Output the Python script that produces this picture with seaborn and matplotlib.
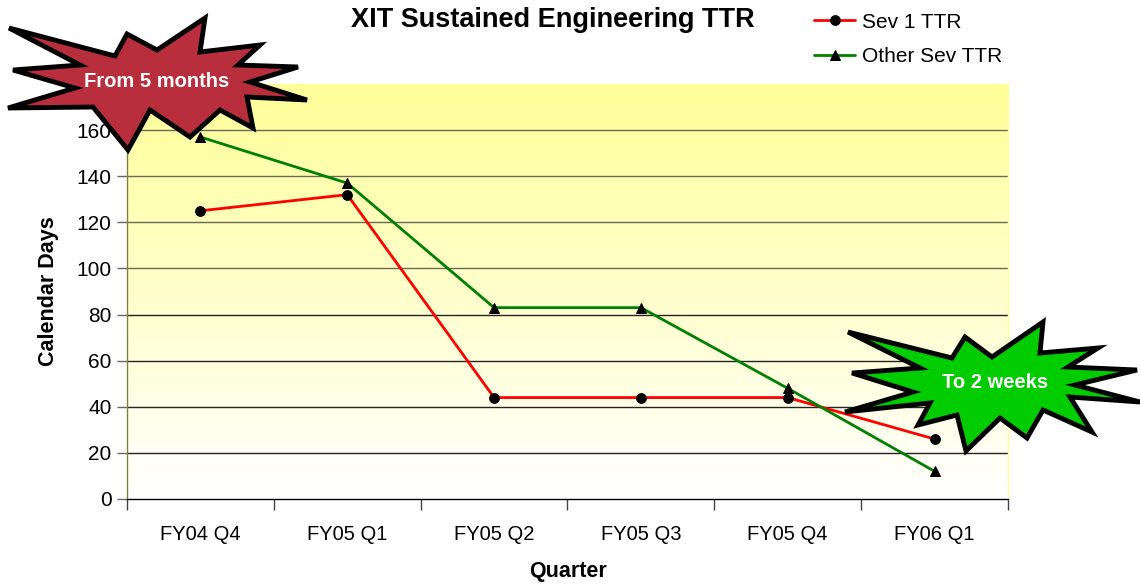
import numpy as np
import pandas as pd
import matplotlib
matplotlib.use('Agg')
import matplotlib.pyplot as plt
from matplotlib.patches import Polygon
from matplotlib.colors import LinearSegmentedColormap
import seaborn as sns

quarters = ["FY04 Q4", "FY05 Q1", "FY05 Q2", "FY05 Q3", "FY05 Q4", "FY06 Q1"]
sev1_ttr = [125, 132, 44, 44, 44, 26]
other_ttr = [157, 137, 83, 83, 48, 12]
y_ticks = [0, 20, 40, 60, 80, 100, 120, 140, 160]

W, H = 1140, 584

sns.set_style("white")
plt.rcParams['font.family'] = ['Liberation Sans', 'DejaVu Sans']
plt.rcParams.update({"text.color": "black", "axes.labelcolor": "black",
                     "xtick.color": "black", "ytick.color": "black"})

fig = plt.figure(figsize=(W / 100, H / 100), dpi=100)
ax = fig.add_axes([127 / W, 1 - 499 / H, (1008 - 127) / W, (499 - 84) / H])

x = np.arange(len(quarters))
df = pd.DataFrame({"x": np.concatenate([x, x]),
                   "days": sev1_ttr + other_ttr,
                   "series": ["Sev 1 TTR"] * 6 + ["Other Sev TTR"] * 6})

# background gradient yellow -> white
cmap = LinearSegmentedColormap.from_list("yw", ["#FFFFFF", "#FFFF99"])
grad = np.linspace(0, 1, 256).reshape(-1, 1)
ax.imshow(grad, cmap=cmap, aspect="auto", origin="lower",
          extent=[-0.5, 5.5, 0, 180], zorder=0)

# gridlines look grey on the deeper yellow, black lower down
for yv in y_ticks[1:]:
    ax.axhline(yv, color="#6a6a5a" if yv >= 100 else "#222222", lw=1.0, zorder=1)

sns.lineplot(data=df[df.series == "Sev 1 TTR"], x="x", y="days", ax=ax,
             color="#FF0000", lw=2, marker="o", markersize=7,
             markerfacecolor="black", markeredgecolor="black",
             label="Sev 1 TTR", zorder=3)
sns.lineplot(data=df[df.series == "Other Sev TTR"], x="x", y="days", ax=ax,
             color="#008000", lw=2, marker="^", markersize=7,
             markerfacecolor="black", markeredgecolor="black",
             label="Other Sev TTR", zorder=3)

ax.set_xlim(-0.5, 5.5)
ax.set_ylim(0, 180)
ax.set_yticks(y_ticks)
ax.set_xticks(x)
ax.set_xticklabels(quarters, fontsize=14.5)
ax.set_xticks(np.arange(-0.5, 6, 1), minor=True)
ax.tick_params(axis="x", which="major", bottom=True, length=0, pad=19)
ax.tick_params(axis="x", which="minor", bottom=True, length=8, direction="out",
               width=1, color="#444444")
ax.tick_params(axis="y", left=True, length=7, direction="out", width=1,
               color="#666666", labelsize=15, pad=4)
ax.set_xlabel("Quarter", fontsize=15.5, fontweight="bold", labelpad=12)
ax.set_ylabel("Calendar Days", fontsize=15.5, fontweight="bold", labelpad=13)
ax.grid(False)

ax.spines["left"].set_color("#808040")
ax.spines["bottom"].set_color("black")
ax.spines["top"].set_color("#FFFF99")
ax.spines["right"].set_color("#FFFF99")
for s in ax.spines.values():
    s.set_linewidth(1)

fig.text(553 / W, 1 - 20 / H, "XIT Sustained Engineering TTR",
         ha="center", va="center", fontsize=19.5, fontweight="bold")

leg = ax.legend(loc="upper left", bbox_to_anchor=(795 / W, 1 + 6 / H),
                bbox_transform=fig.transFigure, frameon=False, fontsize=15,
                handlelength=2.0, handletextpad=0.3, labelspacing=0.75)

# starburst callouts (figure pixel outlines)
red_burst = [(9, 28), (115, 56), (127, 34), (157, 50), (205, 18), (200, 52),
             (260, 45), (238, 65), (298, 67), (250, 82), (307, 100), (247, 97),
             (253, 128), (220, 110), (190, 137), (150, 110), (128, 150),
             (93, 107), (8, 108), (75, 88), (13, 70), (80, 65)]
green_burst = [(848, 332), (952, 358), (965, 337), (992, 357), (1043, 322),
               (1040, 353), (1098, 348), (1068, 367), (1137, 370), (1075, 385),
               (1140, 402), (1070, 397), (1092, 432), (1043, 410), (1027, 438),
               (1000, 418), (966, 451), (957, 415), (918, 425), (930, 403),
               (845, 412), (913, 392), (852, 373), (920, 368)]


def to_fig(pts):
    return [(px / W, 1 - py / H) for px, py in pts]


fig.patches.append(Polygon(to_fig(red_burst), closed=True,
                           transform=fig.transFigure, facecolor="#B82E3C",
                           edgecolor="black", lw=3.5, joinstyle="miter", zorder=5))
fig.patches.append(Polygon(to_fig(green_burst), closed=True,
                           transform=fig.transFigure, facecolor="#00CC00",
                           edgecolor="black", lw=3.5, joinstyle="miter", zorder=5))
fig.text(157 / W, 1 - 81 / H, "From 5 months", ha="center", va="center",
         color="white", fontsize=14.5, fontweight="bold", zorder=6)
fig.text(995 / W, 1 - 383 / H, "To 2 weeks", ha="center", va="center",
         color="white", fontsize=14.5, fontweight="bold", zorder=6)

fig.savefig("out.png", dpi=100)
